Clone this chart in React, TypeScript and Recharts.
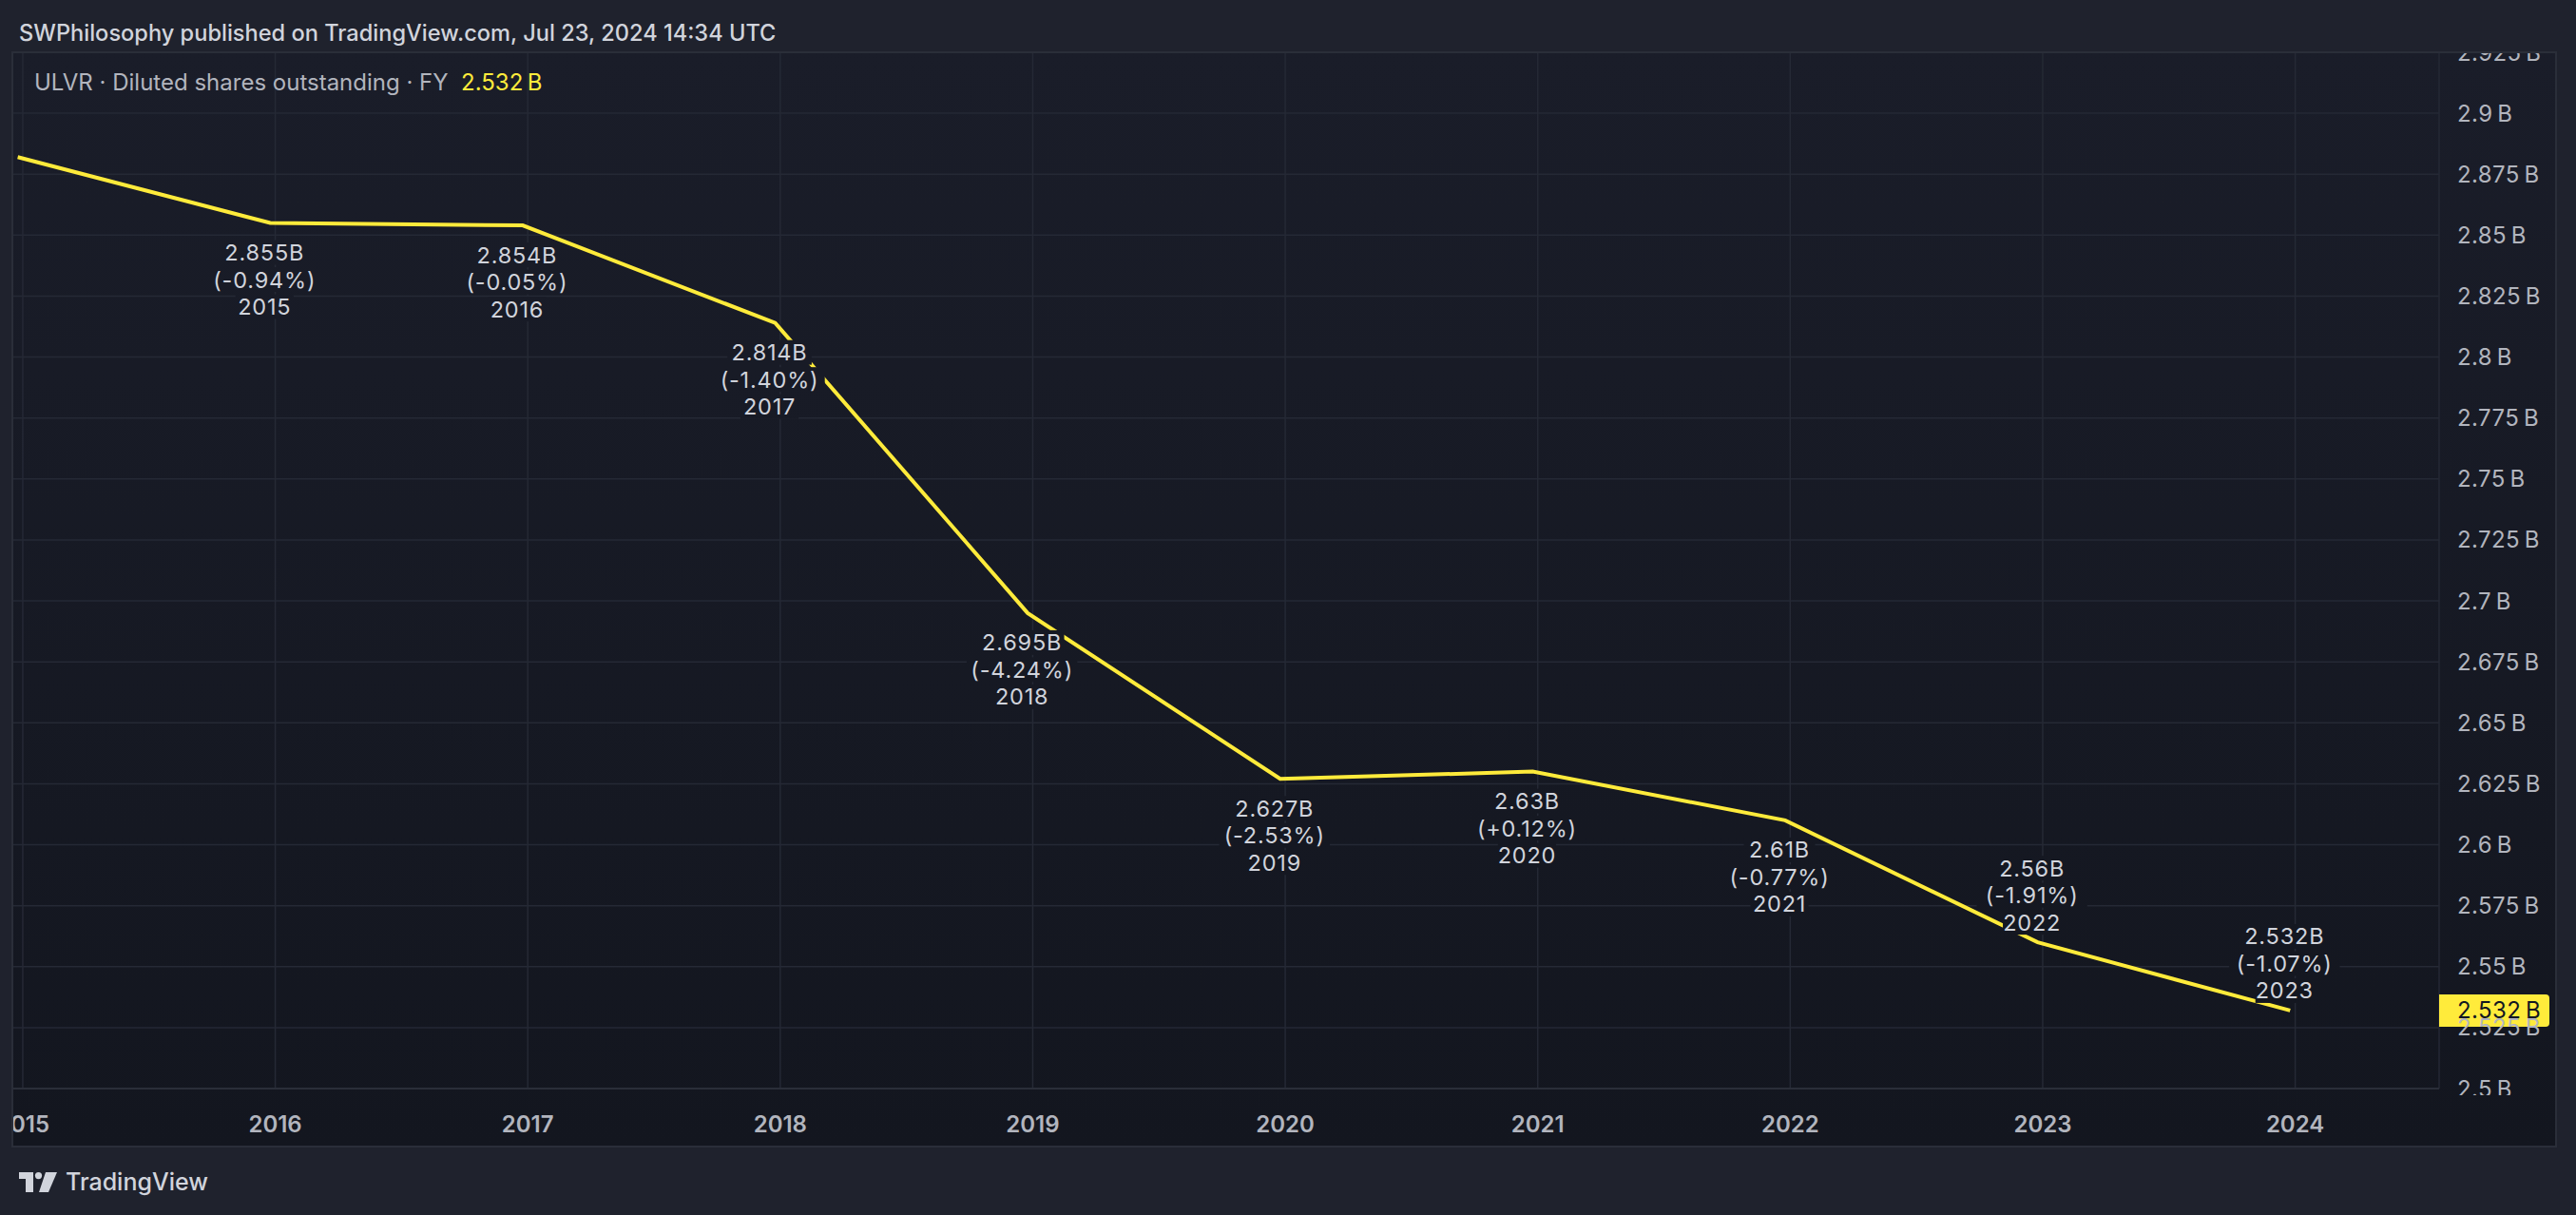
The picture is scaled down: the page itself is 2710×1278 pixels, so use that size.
import React from "react"
import {
  LineChart,
  Line,
  XAxis,
  YAxis,
  CartesianGrid,
  LabelList,
  ReferenceLine,
} from "recharts"

// ULVR diluted shares outstanding (billions), fiscal years
const fiscalYears = [2014, 2015, 2016, 2017, 2018, 2019, 2020, 2021, 2022, 2023]
const sharesB = [2.882, 2.855, 2.854, 2.814, 2.695, 2.627, 2.63, 2.61, 2.56, 2.532]
const changePct = ["", "-0.94%", "-0.05%", "-1.40%", "-4.24%", "-2.53%", "+0.12%", "-0.77%", "-1.91%", "-1.07%"]

const yearTicks = [2015, 2016, 2017, 2018, 2019, 2020, 2021, 2022, 2023, 2024]
const priceTicks = [
  2.5, 2.525, 2.55, 2.575, 2.6, 2.625, 2.65, 2.675, 2.7, 2.725, 2.75, 2.775, 2.8, 2.825, 2.85,
  2.875, 2.9, 2.925,
]
const lastValue = 2.532
const labelsAbove = [2022, 2023]

// points sit at the end of each fiscal year
const data = fiscalYears.map((fy, i) => ({ t: fy + 0.98, v: sharesB[i] }))

const FONT = "Inter, 'Noto Sans', sans-serif"
const PAGE_BG = "#1f222d"
const BG_TOP = "#1a1d29"
const BG_BOTTOM = "#13161f"
const GRID = "#252935"
const BORDER = "#2a2e39"
const AXIS_TEXT = "#b2b5be"
const LABEL_TEXT = "#d1d4dc"
const YELLOW = "#ffeb3b"

const CHART_W = 2678
const CHART_H = 1153

const PriceTick = (props: any) => {
  const { x, y, payload } = props
  return (
    <svg x={x} y={1} width={130} height={1097} overflow="hidden">
      <text
        x={0}
        y={y - 1}
        dominantBaseline="central"
        fill={AXIS_TEXT}
        fontSize={24}
        fontFamily={FONT}
        letterSpacing={0.4}
      >
        {`${payload.value}\u2009B`}
      </text>
    </svg>
  )
}

const YearTick = (props: any) => {
  const { x, y, payload } = props
  return (
    <text
      x={x}
      y={y}
      textAnchor="middle"
      dominantBaseline="central"
      fill={AXIS_TEXT}
      fontSize={24}
      fontWeight={600}
      fontFamily={FONT}
    >
      {payload.value}
    </text>
  )
}

const PointLabel = (props: any) => {
  const { x, y, index } = props
  if (!index) return null
  const lines = [`${sharesB[index]}B`, `(${changePct[index]})`, String(fiscalYears[index])]
  const above = labelsAbove.includes(fiscalYears[index])
  const cx = x - 6
  const first = above ? y - 78 : y + 31
  return (
    <g>
      {lines.map((t, i) => {
        const cy = first + i * 28.5
        const w = t.length * 13.8 + 6
        return (
          <g key={i}>
            <rect x={cx - w / 2} y={cy - 13} width={w} height={26} fill="url(#panelBg)" />
            <text
              x={cx}
              y={cy}
              textAnchor="middle"
              dominantBaseline="central"
              fill={LABEL_TEXT}
              fontSize={23.5}
              fontFamily={FONT}
              letterSpacing={0.8}
            >
              {t}
            </text>
          </g>
        )
      })}
    </g>
  )
}

const PriceTag = (props: any) => {
  const { x, y, width } = props.viewBox
  const left = x + width
  return (
    <g>
      <path
        d={`M${left},${y - 17} h112 a4,4 0 0 1 4,4 v26 a4,4 0 0 1 -4,4 h-112 z`}
        fill={YELLOW}
      />
      <text
        x={left + 19}
        y={y}
        dominantBaseline="central"
        fill="#131722"
        fontSize={24}
        fontFamily={FONT}
        letterSpacing={0.4}
      >
        {`${lastValue}\u2009B`}
      </text>
    </g>
  )
}

function TvLogo() {
  return (
    <svg width={40} height={21} viewBox="0 0 40 21">
      <path d="M0,0 h15 v21 h-8 v-14 h-7 z" fill={LABEL_TEXT} />
      <circle cx={20.5} cy={3.6} r={3.6} fill={LABEL_TEXT} />
      <path d="M28,0 h12 l-9,21 h-10 z" fill={LABEL_TEXT} />
    </svg>
  )
}

export default function App() {
  return (
    <div
      style={{
        position: "absolute",
        left: 0,
        top: 0,
        width: 2710,
        height: 1278,
        background: PAGE_BG,
        fontFamily: FONT,
        overflow: "hidden",
      }}
    >
      <div
        style={{
          position: "absolute",
          left: 20,
          top: 20,
          fontSize: 23.6,
          lineHeight: "30px",
          color: LABEL_TEXT,
          fontWeight: 500,
        }}
      >
        SWPhilosophy published on TradingView.com, Jul 23, 2024 14:34 UTC
      </div>

      <div
        style={{
          position: "absolute",
          left: 12,
          top: 54,
          width: CHART_W,
          height: CHART_H,
          background: `linear-gradient(${BG_TOP}, ${BG_BOTTOM})`,
        }}
      >
        <LineChart
          width={CHART_W}
          height={CHART_H}
          data={data}
          margin={{ top: 1, right: 0, left: 0, bottom: 0 }}
        >
          <defs>
            <linearGradient id="panelBg" gradientUnits="userSpaceOnUse" x1="0" y1="0" x2="0" y2={CHART_H}>
              <stop offset="0%" stopColor={BG_TOP} />
              <stop offset="100%" stopColor={BG_BOTTOM} />
            </linearGradient>
          </defs>
          <CartesianGrid stroke={GRID} strokeWidth={1.5} />
          <XAxis
            dataKey="t"
            type="number"
            domain={[2014.955, 2024.57]}
            ticks={yearTicks}
            allowDataOverflow
            height={62}
            axisLine={{ stroke: BORDER, strokeWidth: 2 }}
            tickLine={false}
            tickSize={6}
            tickMargin={31}
            tick={<YearTick />}
            interval={0}
          />
          <YAxis
            orientation="right"
            type="number"
            domain={[2.5, 2.925]}
            ticks={priceTicks}
            allowDataOverflow
            width={124}
            axisLine={false}
            tickLine={false}
            tickSize={6}
            tickMargin={13}
            tick={<PriceTick />}
            interval={0}
          />
          <Line
            type="linear"
            dataKey="v"
            stroke={YELLOW}
            strokeWidth={4}
            dot={false}
            activeDot={false}
            isAnimationActive={false}
          >
            <LabelList dataKey="v" content={<PointLabel />} />
          </Line>
          <ReferenceLine y={lastValue} stroke="none" ifOverflow="visible" label={<PriceTag />} />
        </LineChart>

        <div
          style={{
            position: "absolute",
            left: 24,
            top: 18,
            fontSize: 24,
            lineHeight: "30px",
            color: AXIS_TEXT,
            whiteSpace: "pre",
          }}
        >
          ULVR · Diluted shares outstanding · FY{"  "}
          <span style={{ color: YELLOW }}>{`${lastValue}\u2009B`}</span>
        </div>
      </div>

      <div
        style={{
          position: "absolute",
          left: 12,
          top: 54,
          width: CHART_W,
          height: CHART_H,
          border: `2px solid ${BORDER}`,
          boxSizing: "border-box",
          pointerEvents: "none",
        }}
      />

      <div
        style={{
          position: "absolute",
          left: 20,
          top: 1228,
          display: "flex",
          alignItems: "center",
          gap: 9,
          color: LABEL_TEXT,
          fontSize: 25,
          fontWeight: 500,
          lineHeight: "30px",
        }}
      >
        <TvLogo />
        <span>TradingView</span>
      </div>
    </div>
  )
}
